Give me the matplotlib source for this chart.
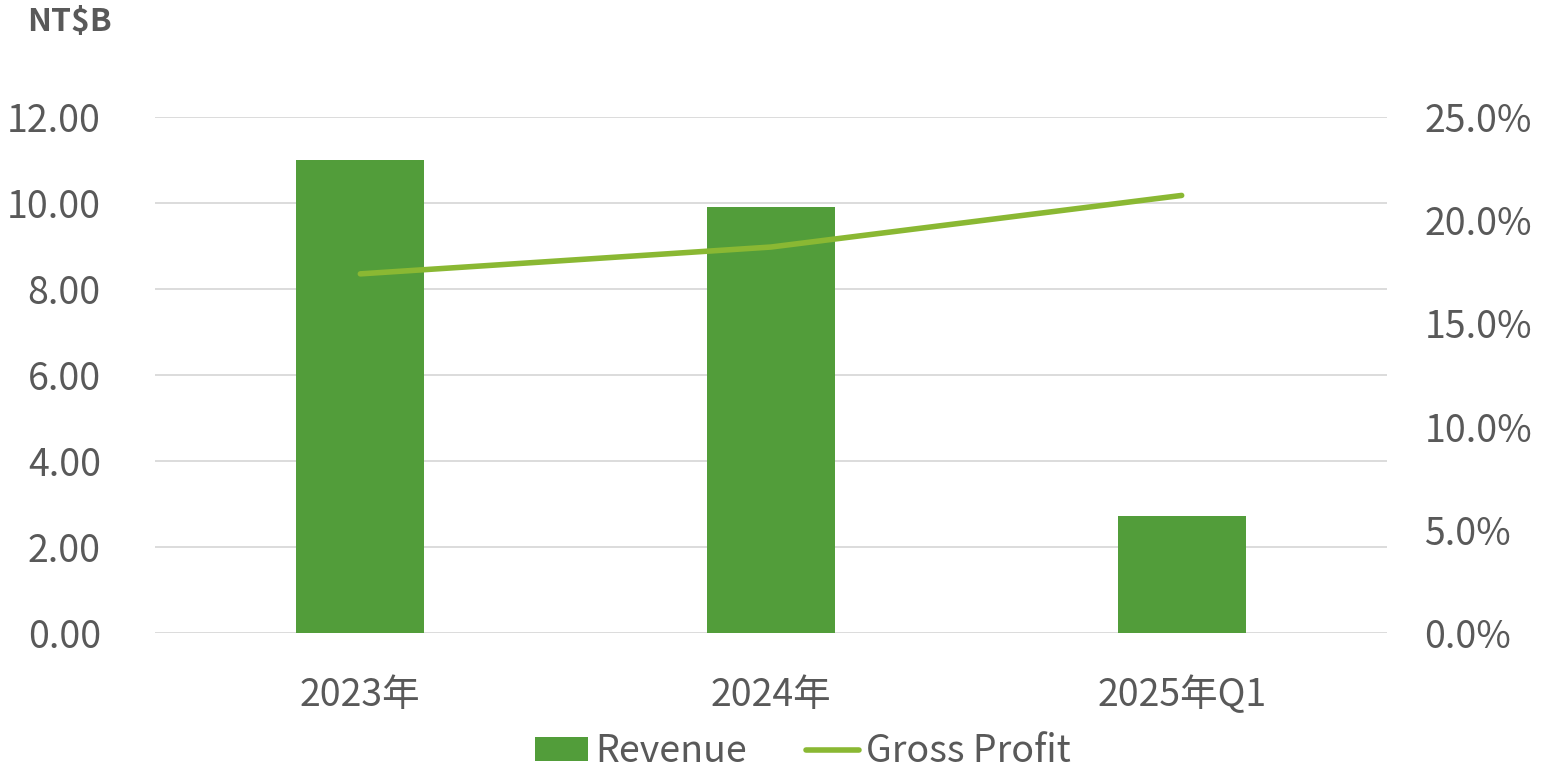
import matplotlib
matplotlib.use("Agg")
import matplotlib.pyplot as plt
from matplotlib.ticker import FuncFormatter, MultipleLocator
from matplotlib.patches import Patch
from matplotlib.lines import Line2D

categories = ["2023年", "2024年", "2025年Q1"]
revenue = [11.0, 9.9, 2.72]
gross_margin = [17.4, 18.7, 21.2]

plt.rcParams['font.family'] = ['Noto Sans CJK SC', 'DejaVu Sans']
TXT = '#595959'
BAR = '#529D3A'
LINE = '#8AB833'
FS = 27

fig = plt.figure(figsize=(15.47, 7.71), dpi=100)
ax = fig.add_axes([155/1547, 1-633/771, (1387-155)/1547, (633-117)/771])
x = list(range(len(categories)))
ax.bar(x, revenue, width=0.312, color=BAR, zorder=2)
ax.set_xlim(-0.5, 2.5)
ax.set_ylim(0, 12)
ax.yaxis.set_major_locator(MultipleLocator(2))
ax.yaxis.set_major_formatter(FuncFormatter(lambda v, p: f"{v:.2f}"))
ax.grid(axis='y', color='#D9D9D9', linewidth=1.3, zorder=0)
for s in ax.spines.values():
    s.set_visible(False)
ax.tick_params(axis='both', length=0, labelsize=FS, labelcolor=TXT)
ax.tick_params(axis='y', pad=39)
ax.tick_params(axis='x', pad=31)
ax.set_xticks(x)
ax.set_xticklabels(categories)

ax2 = ax.twinx()
ax2.plot(x, gross_margin, color=LINE, linewidth=4.0, solid_capstyle='round', zorder=3)
ax2.set_ylim(0, 25)
ax2.yaxis.set_major_locator(MultipleLocator(5))
ax2.yaxis.set_major_formatter(FuncFormatter(lambda v, p: f"{v:.1f}%"))
for s in ax2.spines.values():
    s.set_visible(False)
ax2.tick_params(axis='y', length=0, labelsize=FS, labelcolor=TXT, pad=27)

fig.text(27/1547, 1-22/771, "NT$B", fontsize=23, fontweight='bold', color=TXT, va='center', ha='left')

handles = [Patch(facecolor=BAR, edgecolor='none', label='Revenue'),
           Line2D([0], [0], color=LINE, linewidth=4.0, solid_capstyle='round', label='Gross Profit')]
fig.legend(handles=handles, loc='center', bbox_to_anchor=(803/1547, 1-752/771), ncol=2,
           frameon=False, fontsize=FS, labelcolor=TXT, handlelength=1.41, handletextpad=0.19,
           columnspacing=1.57, handleheight=0.61, borderpad=0, borderaxespad=0)

fig.savefig("out.png", dpi=100)
